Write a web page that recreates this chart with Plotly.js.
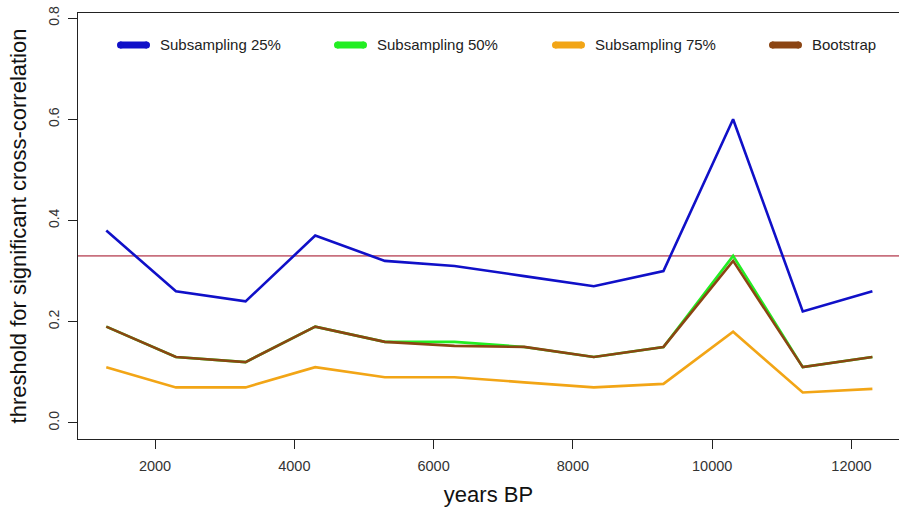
<!DOCTYPE html>
<html>
<head>
<meta charset="utf-8">
<script src="https://cdn.plot.ly/plotly-3.0.1.min.js"></script>
<style>html,body{margin:0;padding:0;background:#fff;}#chart{width:899px;height:513px;}</style>
</head>
<body>
<div id="chart"></div>
<script>
const years = [1300, 2300, 3300, 4300, 5300, 6300, 7300, 8300, 9300, 10300, 11300, 12300];
const sub25 = [0.38, 0.26, 0.24, 0.37, 0.32, 0.31, 0.29, 0.27, 0.30, 0.60, 0.22, 0.26];
const sub50 = [0.19, 0.13, 0.12, 0.19, 0.16, 0.16, 0.15, 0.13, 0.15, 0.33, 0.11, 0.13];
const sub75 = [0.11, 0.07, 0.07, 0.11, 0.09, 0.09, 0.08, 0.07, 0.077, 0.18, 0.06, 0.067];
const boot  = [0.19, 0.13, 0.12, 0.19, 0.16, 0.152, 0.15, 0.13, 0.15, 0.32, 0.11, 0.13];
const threshold = 0.33;
const seriesNames = ["Subsampling 25%", "Subsampling 50%", "Subsampling 75%", "Bootstrap"];
const seriesColors = ["#1010C8", "#22EE22", "#F2A516", "#8B4513"];
const seriesData = [sub25, sub50, sub75, boot];

const traces = seriesData.map((vals, i) => ({
  x: years, y: vals, type: 'scatter', mode: 'lines', name: seriesNames[i],
  line: {color: seriesColors[i], width: 2.6}, showlegend: false, hoverinfo: 'skip'
}));
// green under blue/brown as in reference
const drawTraces = [traces[1], traces[0], traces[2], traces[3]];

// layout geometry (pixels)
const W = 899, H = 513, mL = 78, mR = 0, mT = 13, mB = 74;
const pw = W - mL - mR, ph = H - mT - mB;
const px2paperX = p => (p - mL) / pw;
const px2paperY = p => (H - mB - p) / ph;

// legend drawn inside the plot, one row
const legendSymbolStart = [117, 334, 552, 769];
const legendSymbolLen = 33, legendTextGap = 8, legendRowY = 45;
const shapes = [{
  type: 'line', xref: 'paper', x0: 0, x1: 1, yref: 'y', y0: threshold, y1: threshold,
  line: {color: '#C8707E', width: 1.6}, layer: 'below'
}];
const annotations = [];
seriesNames.forEach((n, i) => {
  const s = legendSymbolStart[i];
  shapes.push({
    type: 'line', xref: 'paper', yref: 'paper',
    x0: px2paperX(s + 3), x1: px2paperX(s + legendSymbolLen - 3),
    y0: px2paperY(legendRowY), y1: px2paperY(legendRowY),
    line: {color: seriesColors[i], width: 7}
  });
  shapes.push({
    type: 'circle', xref: 'paper', yref: 'paper',
    x0: px2paperX(s), x1: px2paperX(s + 7),
    y0: px2paperY(legendRowY + 3.5), y1: px2paperY(legendRowY - 3.5),
    fillcolor: seriesColors[i], line: {width: 0}
  });
  shapes.push({
    type: 'circle', xref: 'paper', yref: 'paper',
    x0: px2paperX(s + legendSymbolLen - 7), x1: px2paperX(s + legendSymbolLen),
    y0: px2paperY(legendRowY + 3.5), y1: px2paperY(legendRowY - 3.5),
    fillcolor: seriesColors[i], line: {width: 0}
  });
  annotations.push({
    text: n, xref: 'paper', yref: 'paper', showarrow: false,
    x: px2paperX(s + legendSymbolLen + legendTextGap), y: px2paperY(legendRowY),
    xanchor: 'left', yanchor: 'middle',
    font: {size: 15, color: '#222'}
  });
});

const layout = {
  width: W, height: H,
  margin: {l: mL, r: mR, t: mT, b: mB},
  paper_bgcolor: '#fff', plot_bgcolor: '#fff',
  font: {family: 'Liberation Sans, Arial, sans-serif', color: '#222'},
  showlegend: false,
  xaxis: {
    range: [894, 12682], showgrid: false, zeroline: false,
    showline: true, linecolor: '#222', linewidth: 1, mirror: true,
    ticks: 'outside', ticklen: 9, tickcolor: '#222',
    tickvals: [2000, 4000, 6000, 8000, 10000, 12000],
    ticktext: ['2000', '4000', '6000', '8000', '10000', '12000'],
    tickfont: {size: 14.5, color: '#333'}, ticklabelstandoff: 5,
    title: {text: 'years BP', font: {size: 22, color: '#111'}, standoff: 13}
  },
  yaxis: {
    range: [-0.032, 0.81], showgrid: false, zeroline: false,
    showline: true, linecolor: '#222', linewidth: 1, mirror: false,
    ticks: 'outside', ticklen: 9, tickcolor: '#222',
    tickvals: [0, 0.2, 0.4, 0.6, 0.8],
    ticktext: ['0.0', '0.2', '0.4', '0.6', '0.8'],
    tickangle: -90,
    tickfont: {size: 14, color: '#333'}, ticklabelstandoff: 3,
    title: {text: 'threshold for significant cross-correlation', font: {size: 22, color: '#111'}, standoff: 13}
  },
  shapes: shapes,
  annotations: annotations
};

Plotly.newPlot('chart', drawTraces, layout, {displayModeBar: false, staticPlot: true});
</script>
</body>
</html>
